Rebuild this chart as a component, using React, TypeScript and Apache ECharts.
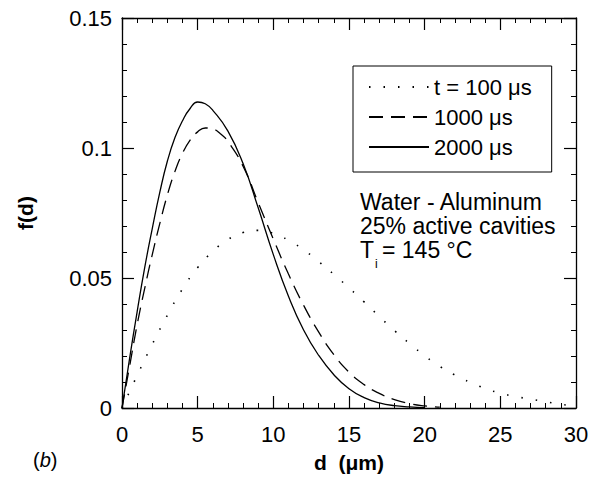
import React, { useEffect, useRef } from 'react';
import * as echarts from 'echarts';

const FONT = '"Liberation Sans", Arial, Helvetica, sans-serif';

// t = 100 µs (dotted)
const dDotted = [0, 1, 2, 3, 4, 5, 6, 7, 8, 9, 10, 11, 12, 13, 14, 15, 16, 17, 18, 19, 20, 21, 22, 23, 24, 25, 26, 27, 28, 29, 30];
const fDotted = [0, 0.0125, 0.0245, 0.0357, 0.0458, 0.054, 0.0602, 0.0648, 0.0675, 0.0683, 0.0672, 0.0645, 0.0609, 0.0563, 0.0514, 0.0462, 0.0408, 0.0352, 0.0298, 0.0248, 0.0201, 0.016, 0.0127, 0.0099, 0.0075, 0.0057, 0.0044, 0.0034, 0.0024, 0.0014, 0.0008];

// 1000 µs (dashed)
const dDashed = [0, 0.5, 1, 1.5, 2, 2.5, 3, 3.5, 4, 4.5, 5, 5.5, 6, 6.5, 7, 8, 9, 10, 11, 12, 13, 14, 15, 16, 17, 18, 19, 20, 21];
const fDashed = [0, 0.016, 0.032, 0.046, 0.059, 0.071, 0.082, 0.091, 0.098, 0.103, 0.1062, 0.1077, 0.1073, 0.1055, 0.1025, 0.093, 0.079, 0.065, 0.0515, 0.0395, 0.0292, 0.0205, 0.0138, 0.009, 0.0056, 0.0032, 0.0017, 0.0008, 0.0003];

// 2000 µs (solid)
const dSolid = [0, 0.5, 1, 1.5, 2, 2.5, 3, 3.5, 4, 4.5, 5, 5.5, 6, 7, 8, 9, 10, 11, 12, 13, 14, 15, 16, 17, 18, 19, 20];
const fSolid = [0, 0.019, 0.037, 0.054, 0.069, 0.083, 0.095, 0.104, 0.1105, 0.1152, 0.1177, 0.117, 0.1145, 0.1065, 0.094, 0.077, 0.059, 0.043, 0.03, 0.0202, 0.0128, 0.0074, 0.004, 0.002, 0.0009, 0.0004, 0.0001];

const seriesNames = ['t = 100 μs', '1000 μs', '2000 μs'];
const annotation = ['Water - Aluminum', '25% active cavities'];

const zip = (xs: number[], ys: number[]) => xs.map((x, i) => [x, ys[i]]);

export default function App() {
  const ref = useRef<HTMLDivElement>(null);
  useEffect(() => {
    const chart = echarts.init(ref.current!, null, { renderer: 'svg' });
    const axisCommon = {
      type: 'value' as const,
      axisLine: { show: true, onZero: false, lineStyle: { color: '#000', width: 1.3 } },
      axisTick: { show: true, inside: true, length: 12, lineStyle: { color: '#000', width: 1.2 } },
      minorTick: { show: true, splitNumber: 5, length: 5, lineStyle: { color: '#000', width: 1 } },
      splitLine: { show: false },
      minorSplitLine: { show: false },
    };
    const lineBase = {
      type: 'line' as const,
      showSymbol: false,
      symbol: 'none',
      smooth: 0.5,
      xAxisIndex: 0,
      yAxisIndex: 0,
      color: '#000',
    };
    const txt = (text: string, x: number, y: number, fontSize: number) => ({
      type: 'text', x, y,
      style: { text, fontSize, lineHeight: fontSize, fontFamily: FONT, fill: '#000', verticalAlign: 'middle', align: 'left' },
    });
    chart.setOption({
      animation: false,
      backgroundColor: '#fff',
      textStyle: { fontFamily: FONT },
      grid: { left: 122, right: 20, top: 18, bottom: 68 },
      xAxis: [
        {
          ...axisCommon,
          position: 'bottom',
          min: 0,
          max: 30,
          interval: 5,
          axisLabel: { fontSize: 22, color: '#000', margin: 15, fontFamily: FONT },
          name: 'd  (μm)',
          nameLocation: 'middle',
          nameGap: 44,
          nameTextStyle: { fontSize: 21, fontWeight: 'bold', color: '#000', fontFamily: FONT },
        },
        {
          ...axisCommon,
          position: 'top',
          min: 0,
          max: 30,
          interval: 5,
          axisLabel: { show: false },
        },
      ],
      yAxis: [
        {
          ...axisCommon,
          position: 'left',
          min: 0,
          max: 0.15,
          interval: 0.05,
          axisLabel: { fontSize: 22, color: '#000', margin: 10, fontFamily: FONT },
          name: 'f(d)',
          nameLocation: 'middle',
          nameGap: 86,
          nameTextStyle: { fontSize: 21, fontWeight: 'bold', color: '#000', fontFamily: FONT },
        },
        {
          ...axisCommon,
          position: 'right',
          min: 0,
          max: 0.15,
          interval: 0.05,
          axisLabel: { show: false },
        },
      ],
      legend: {
        left: 353,
        top: 66,
        orient: 'vertical',
        itemWidth: 60,
        itemHeight: 14,
        itemGap: 8,
        padding: [10, 20, 14, 15],
        borderColor: '#000',
        borderWidth: 1,
        itemStyle: { opacity: 0, borderWidth: 0 },
        textStyle: { fontSize: 22, color: '#000', fontFamily: FONT },
        data: seriesNames,
      },
      series: [
        {
          ...lineBase,
          name: seriesNames[0],
          data: zip(dDotted, fDotted),
          lineStyle: { color: '#000', width: 1.6, type: [1.5, 13] },
        },
        {
          ...lineBase,
          name: seriesNames[1],
          data: zip(dDashed, fDashed),
          lineStyle: { color: '#000', width: 1.3, type: [14, 8] },
        },
        {
          ...lineBase,
          name: seriesNames[2],
          data: zip(dSolid, fSolid),
          lineStyle: { color: '#000', width: 1.3, type: 'solid' },
        },
      ],
      graphic: [
        txt(annotation[0], 360, 202, 23),
        txt(annotation[1], 360, 226, 23),
        txt('T', 360, 250, 23),
        txt('i', 375, 264, 12),
        txt('= 145 °C', 382, 250, 23),
        {
          type: 'text', x: 33, y: 460,
          style: {
            text: '({b|b})',
            fontSize: 20,
            fontFamily: FONT,
            fill: '#000',
            verticalAlign: 'middle',
            align: 'left',
            rich: { b: { fontStyle: 'italic', fontSize: 20, fontFamily: FONT } },
          },
        },
      ],
    });
    return () => chart.dispose();
  }, []);
  return <div ref={ref} style={{ position: 'fixed', left: 0, top: 0, width: 596, height: 478 }} />;
}
